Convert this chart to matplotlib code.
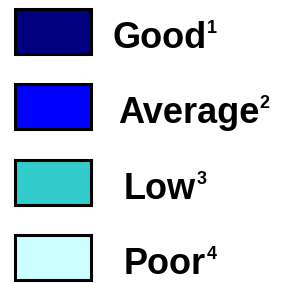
import matplotlib
matplotlib.use('Agg')
import matplotlib.pyplot as plt
from matplotlib.patches import Rectangle

labels = ['Good', 'Average', 'Low', 'Poor']
notes = ['1', '2', '3', '4']
fills = ['#000080', '#0000FF', '#33CCCC', '#CCFFFF']
text_x = [112, 118, 124, 124]
box_y = [31, 106, 182, 257]

fig = plt.figure(figsize=(2.84, 2.83), dpi=100)
ax = fig.add_axes([0, 0, 1, 1])
ax.set_xlim(0, 284)
ax.set_ylim(283, 0)
ax.axis('off')

texts = []
for i, (lab, col) in enumerate(zip(labels, fills)):
    yc = box_y[i]
    ax.add_patch(Rectangle((14.5, yc - 22.5), 76, 45, facecolor=col,
                           edgecolor='black', linewidth=2.2))
    t = ax.text(text_x[i], yc + 17, lab, fontsize=26, fontweight='bold',
                family='Liberation Sans', va='baseline', ha='left')
    texts.append(t)

# superscript note numbers just after each label
fig.canvas.draw()
inv = ax.transData.inverted()
for i, (t, note) in enumerate(zip(texts, notes)):
    bb = t.get_window_extent()
    x_end = inv.transform((bb.x1, bb.y0))[0]
    ax.text(x_end + 0.5, box_y[i] + 2, note, fontsize=13, fontweight='bold',
            family='Liberation Sans', va='baseline', ha='left')

fig.savefig('out.png', dpi=100)
